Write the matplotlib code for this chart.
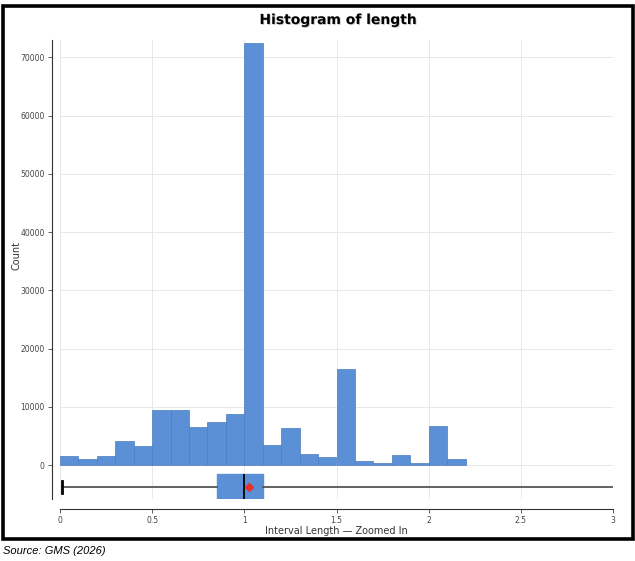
import numpy as np
import matplotlib.pyplot as plt
import matplotlib.patheffects as pe
from matplotlib.patches import Rectangle

# histogram counts, bins of width 0.1 starting at 0
bin_edges = np.round(np.arange(0, 2.21, 0.1), 2)
counts = [1500, 1150, 1500, 4150, 3350, 9550, 9400, 6600, 7350, 8750,
          72500, 3450, 6400, 2000, 1400, 16450, 800, 450, 1800, 350,
          6700, 1150]

# boxplot summary of interval length
box_q1 = 0.85
box_med = 1.0
box_q3 = 1.1
box_lo = 0.01
box_hi = 3.3
box_mean = 1.025

xticks = [0, 0.5, 1, 1.5, 2, 2.5, 3]
xticklabels = ['0', '0.5', '1', '1.5', '2', '2.5', '3']
yticks = [0, 10000, 20000, 30000, 40000, 50000, 60000, 70000]

blue = '#5b90d7'

fig = plt.figure(figsize=(6.35, 5.61), dpi=100)
ax = fig.add_axes([60/635, 62/561, 553/635, 459/561])

ax.bar(bin_edges[:-1], counts, width=0.1, align='edge', color=blue,
       edgecolor='#4a7cc0', linewidth=0.5, zorder=2)

stats = [dict(q1=box_q1, med=box_med, q3=box_q3, whislo=box_lo,
              whishi=box_hi, mean=box_mean, fliers=[])]
ax.bxp(stats, positions=[-3700], widths=[4300], orientation='horizontal',
       showmeans=True, patch_artist=True, manage_ticks=False,
       boxprops=dict(facecolor=blue, edgecolor=blue),
       whiskerprops=dict(color='#555555', linewidth=1.3),
       capprops=dict(color='black', linewidth=2),
       medianprops=dict(color='black', linewidth=1.3),
       meanprops=dict(marker='D', markerfacecolor='#e8302a',
                      markeredgecolor='#e8302a', markersize=4),
       zorder=3)

ax.set_xlim(0, 3)
ax.set_ylim(-5800, 73000)
ax.set_xticks(xticks)
ax.set_xticklabels(xticklabels)
ax.set_yticks(yticks)
ax.tick_params(labelsize=5.5, length=3, width=0.6, colors='#444444', pad=2)
ax.grid(True, color='#e8e8e8', linewidth=0.7, zorder=0)
ax.set_axisbelow(True)

for s in ['top', 'right']:
    ax.spines[s].set_visible(False)
ax.spines['left'].set_position(('outward', 6))
ax.spines['bottom'].set_position(('outward', 7))
ax.spines['bottom'].set_bounds(0, 3)
ax.spines['left'].set_color('#333333')
ax.spines['bottom'].set_color('#333333')

ax.set_xlabel('Interval Length \u2014 Zoomed In', fontsize=7, color='#333333', labelpad=1)
ax.set_ylabel('Count', fontsize=7, color='#333333')
ax.yaxis.set_label_coords(-0.069, 0.53)

fig.text(338/635, 1 - 20/561, 'Histogram of length', ha='center', va='center',
         fontsize=10, fontweight='heavy', family='DejaVu Sans',
         path_effects=[pe.withSimplePatchShadow(offset=(0.6, -0.6), shadow_rgbFace='#999999', alpha=0.6)])

fig.patches.append(Rectangle((2.5/635, 1 - 538.5/561), 630/635, 533/561,
                             transform=fig.transFigure, fill=False,
                             edgecolor='black', linewidth=2.6))

fig.text(3/635, 1 - 551/561, 'Source: GMS (2026)', ha='left', va='center',
         fontsize=8, style='italic', family='Liberation Sans')

fig.savefig('out.png', dpi=100)
